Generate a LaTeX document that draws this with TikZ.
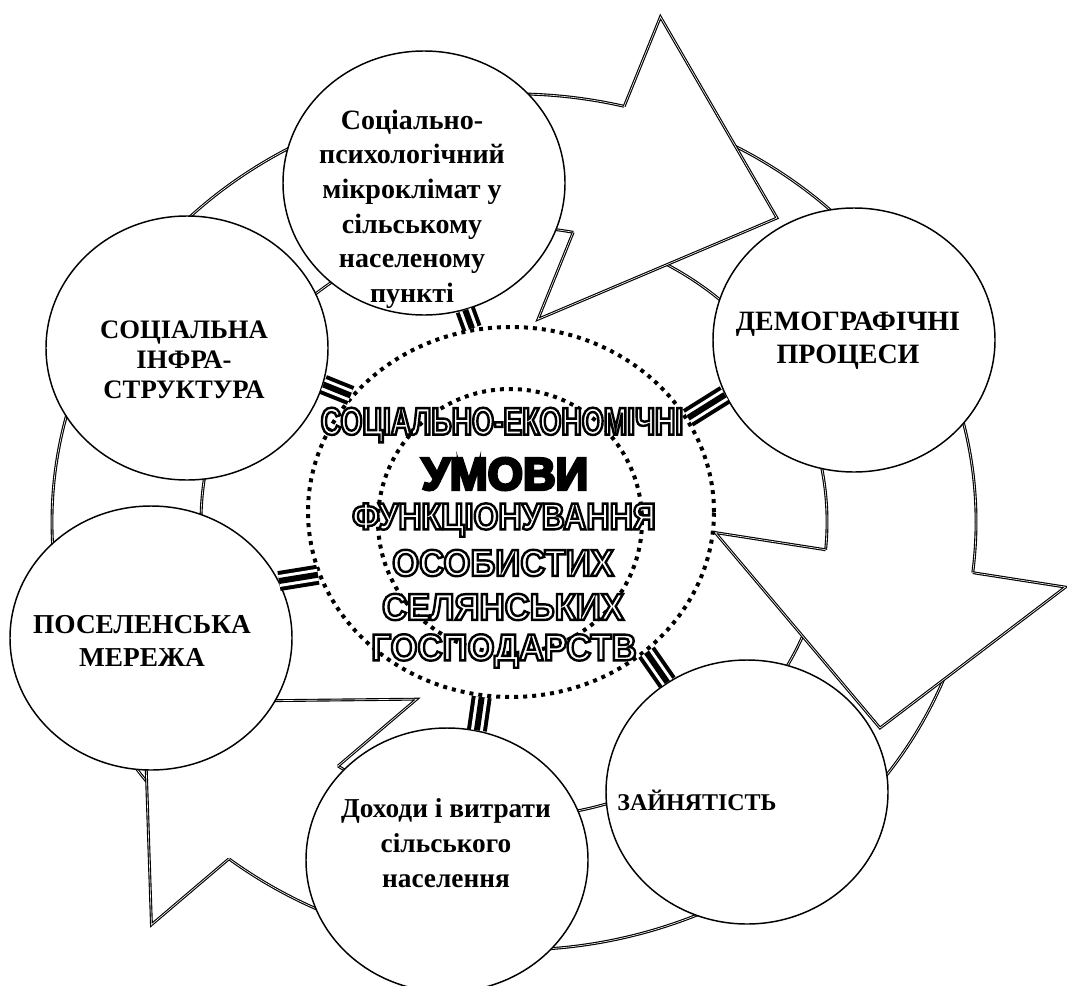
\documentclass[tikz,border=0pt]{standalone}
\usepackage{fontspec}
\setmainfont{Liberation Serif}
\newfontfamily\condA[FakeStretch=0.73]{Liberation Sans}
\newfontfamily\condB[FakeStretch=0.86]{Liberation Sans}
\newfontfamily\condC[FakeStretch=0.93]{Liberation Sans}
\newfontfamily\heavy[FakeStretch=1.0]{Liberation Sans}
\usetikzlibrary{shapes.geometric,calc}
\newcommand\olt[1]{\special{pdf:literal direct 2 Tr 1.8 w 1 g 0 G}#1\special{pdf:literal direct 0 Tr 0 g 0 G}}
\newcommand\sht[1]{\special{pdf:literal direct 2 Tr 2.2 w 0 g 0 G}#1\special{pdf:literal direct 0 Tr 0 g 0 G}}
\begin{document}
\begin{tikzpicture}[x=0.75pt,y=-0.75pt,
  ringline/.style={draw=black, line width=0.85pt, double=white, double distance=0.45pt, fill=white},
  bub/.style={ellipse, draw=black, line width=1.1pt, fill=white, minimum width=211.5pt, minimum height=198pt, inner sep=0pt},
  btxt/.style={align=center, inner sep=0pt, font=\bfseries\fontsize{20}{25}\selectfont},
  conn/.style={draw=black, line width=4.5pt, preaction={draw=black, line width=15pt}, preaction={draw=white, line width=9pt}},
  dots/.style={draw=black, line width=3pt, dash pattern=on 3pt off 3.75pt},
  ctxt/.style={inner sep=0pt}
]
\useasboundingbox (0,0) rectangle (1067,985);
% ---- ring bodies
\path[ringline] ({514+313*cos(132)},{522+295*sin(132)}) arc[start angle=132,end angle=288,x radius=313,y radius=295]
  -- ({514+462*cos(288)},{522+428*sin(288)}) arc[start angle=288,end angle=132,x radius=462,y radius=428] -- cycle;
\path[ringline] ({514+313*cos(292)},{522+295*sin(292)}) arc[start angle=292,end angle=370,x radius=313,y radius=295]
  -- ({514+462*cos(370)},{522+428*sin(370)}) arc[start angle=370,end angle=292,x radius=462,y radius=428] -- cycle;
\path[ringline] ({514+313*cos(18)},{522+295*sin(18)}) arc[start angle=18,end angle=130,x radius=313,y radius=295]
  -- ({514+462*cos(130)},{522+428*sin(130)}) arc[start angle=130,end angle=18,x radius=462,y radius=428] -- cycle;
% ---- arrowheads
\coordinate (tnin) at ({514+313*cos(-79.1)},{522+295*sin(-79.1)});
\coordinate (tnout) at ({514+462*cos(-76.2)},{522+428*sin(-76.2)});
\coordinate (tbin) at ($(tnin)!-0.69!(tnout)$);
\coordinate (tbout) at ($(tnin)!1.71!(tnout)$);
\coordinate (ttip) at (777,218);
\coordinate (rnin) at ({514+313*cos(5.4)},{522+295*sin(5.4)});
\coordinate (rnout) at ({514+462*cos(6.8)},{522+428*sin(6.8)});
\coordinate (rbin) at ($(rnin)!-0.75!(rnout)$);
\coordinate (rbout) at ($(rnin)!1.63!(rnout)$);
\coordinate (rtip) at (880,728);
\coordinate (lnin) at ({514+313*cos(124.2)},{522+295*sin(124.2)});
\coordinate (lnout) at ({514+462*cos(128.1)},{522+428*sin(128.1)});
\coordinate (lbin) at ($(lnin)!-0.72!(lnout)$);
\coordinate (lbout) at ($(lnin)!1.71!(lnout)$);
\coordinate (ltip) at (144,702);
\path[ringline] (tnin) -- (tbin) -- (ttip) -- (tbout) -- (tnout);
\path[ringline] (rnin) -- (rbin) -- (rtip) -- (rbout) -- (rnout);
\path[ringline] (lnin) -- (lbin) -- (ltip) -- (lbout) -- (lnout);
% ---- circles
\node[bub] (micro) at (424,183) {};
\node[bub] (infra) at (187,348) {};
\node[bub] (demo) at (854,340) {};
\node[bub] (settl) at (151,638) {};
\node[bub] (income) at (447,860) {};
\node[bub] (empl) at (747,792) {};
\node[btxt, font=\bfseries\fontsize{21}{26}\selectfont] (microtxt) at (412,209) {Соціально-\\психологічний\\мікроклімат у\\сільському\\населеному\\пункті};
\node[btxt, font=\bfseries\fontsize{20}{22.5}\selectfont] (infratxt) at (184,360) {СОЦІАЛЬНА\\ІНФРА-\\СТРУКТУРА};
\node[btxt, font=\bfseries\fontsize{21}{24.75}\selectfont] (demotxt) at (848,341) {ДЕМОГРАФІЧНІ\\ПРОЦЕСИ};
\node[btxt, font=\bfseries\fontsize{20.5}{24.75}\selectfont] (settltxt) at (142,641) {ПОСЕЛЕНСЬКА\\МЕРЕЖА};
\node[btxt, font=\bfseries\fontsize{18}{22}\selectfont] (empltxt) at (697,800) {ЗАЙНЯТІСТЬ};
\node[btxt, font=\bfseries\fontsize{20.5}{26}\selectfont] (incometxt) at (446,843) {Доходи і витрати\\сільського\\населення};
% ---- core
\node[ellipse, dots, fill=white, minimum width=304.5pt, minimum height=277.5pt, inner sep=0pt] (core) at (511,512) {};
\draw[dots] (510,521) circle[radius=132];
% ---- connectors
\draw[conn] (micro.-72.2) -- (core.102.8);
\draw[conn] (infra.-15.8) -- (core.144.4);
\draw[conn] (demo.203.1) -- (core.28.7);
\draw[conn] (settl.24.8) -- (core.198.4);
\draw[conn] (empl.126) -- (core.-46.5);
\draw[conn] (income.77.6) -- (core.-99.3);
% ---- central title
\node[ctxt, font=\condA\bfseries\fontsize{29}{29}\selectfont] (t1) at (502,425) {\olt{СОЦІАЛЬНО-ЕКОНОМІЧНІ}};
\node[ctxt, font=\heavy\bfseries\fontsize{34}{34}\selectfont] (t2) at (505,474) {\sht{УМОВИ}};
\node[ctxt, font=\condB\bfseries\fontsize{28}{28}\selectfont] (t3) at (504,520) {\olt{ФУНКЦІОНУВАННЯ}};
\node[ctxt, font=\condC\bfseries\fontsize{28}{28}\selectfont] (t4) at (503,563) {\olt{ОСОБИСТИХ}};
\node[ctxt, font=\condC\bfseries\fontsize{28}{28}\selectfont] (t5) at (503,607) {\olt{СЕЛЯНСЬКИХ}};
\node[ctxt, font=\condC\bfseries\fontsize{28}{28}\selectfont] (t6) at (504,651) {\olt{ГОСПОДАРСТВ}};
\end{tikzpicture}
\end{document}
